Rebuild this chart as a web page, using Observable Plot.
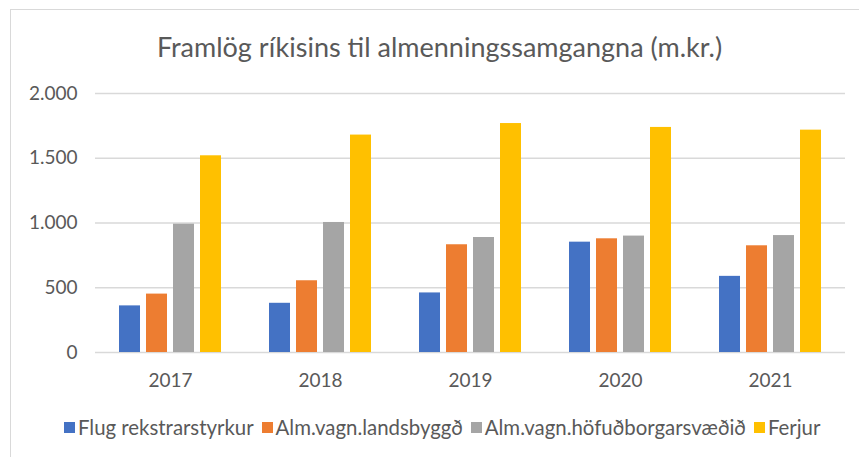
<!DOCTYPE html>
<html>
<head>
<meta charset="utf-8">
<script src="https://cdn.jsdelivr.net/npm/d3@7"></script>
<script src="https://cdn.jsdelivr.net/npm/@observablehq/plot@0.6"></script>
<style>
  html, body { margin: 0; padding: 0; background: #fff; }
  body { width: 859px; height: 457px; overflow: hidden; position: relative; font-family: Lato, "Open Sans", sans-serif; color: #595959; }
  #frame { position: absolute; left: 10px; top: 9px; width: 900px; height: 500px; border: 1px solid #d9d9d9; box-sizing: border-box; }
  #title { position: absolute; left: 0; width: 879px; top: 29px; text-align: center; font-size: 27px; line-height: 36px; color: #595959; }
  #chart { position: absolute; left: 0; top: 60px; }
  #legend { position: absolute; left: 64px; top: 416px; display: flex; align-items: center; font-size: 20.4px; line-height: 22px; white-space: nowrap; }
  .item { display: flex; align-items: center; margin-right: 8px; }
  .sw { width: 11px; height: 11px; margin-right: 3px; }
</style>
</head>
<body>
<div id="frame"></div>
<div id="title"></div>
<div id="chart"></div>
<div id="legend"></div>
<script>
const titleText = "Framlög ríkisins til almenningssamgangna (m.kr.)";
const years = ["2017", "2018", "2019", "2020", "2021"];
const seriesNames = ["Flug rekstrarstyrkur", "Alm.vagn.landsbyggð", "Alm.vagn.höfuðborgarsvæðið", "Ferjur"];
const seriesColors = ["#4472C4", "#ED7D31", "#A5A5A5", "#FFC000"];
const flug = [360, 380, 460, 852, 588];
const landsbyggd = [451, 554, 832, 878, 824];
const hofudborg = [991, 1004, 888, 899, 903];
const ferjur = [1519, 1679, 1768, 1738, 1717];
const yTicks = [0, 500, 1000, 1500, 2000];

const seriesValues = [flug, landsbyggd, hofudborg, ferjur];
const data = [];
years.forEach((yr, i) => {
  seriesNames.forEach((s, j) => data.push({year: yr, series: s, value: seriesValues[j][i]}));
});

const isFmt = d3.formatLocale({decimal: ",", thousands: ".", grouping: [3], currency: ["", ""]}).format(",");

document.getElementById("title").textContent = titleText;

const chart = Plot.plot({
  width: 859,
  height: 340,
  marginTop: 33,
  marginBottom: 48,
  marginLeft: 93,
  marginRight: 12,
  style: {fontFamily: "Lato, 'Open Sans', sans-serif", fontSize: "19px", color: "#595959", background: "transparent"},
  fx: {domain: years, padding: 0, label: null},
  x: {domain: seriesNames, paddingInner: 0.234, paddingOuter: 0.87, axis: null},
  y: {domain: [0, 2000], label: null},
  color: {domain: seriesNames, range: seriesColors},
  marks: [
    Plot.gridY(yTicks, {stroke: "#d9d9d9", strokeOpacity: 1, strokeWidth: 1.3}),
    Plot.axisY(yTicks, {tickSize: 0, tickPadding: 18, tickFormat: isFmt, label: null, fill: "#595959"}),
    Plot.axisFx({anchor: "bottom", tickSize: 0, tickPadding: 21, label: null, fill: "#595959"}),
    Plot.barY(data, {fx: "year", x: "series", y: "value", fill: "series"})
  ]
});
document.getElementById("chart").appendChild(chart);

const legend = document.getElementById("legend");
seriesNames.forEach((s, j) => {
  const item = document.createElement("div");
  item.className = "item";
  const sw = document.createElement("span");
  sw.className = "sw";
  sw.style.background = seriesColors[j];
  const t = document.createElement("span");
  t.textContent = s;
  item.appendChild(sw);
  item.appendChild(t);
  legend.appendChild(item);
});
</script>
</body>
</html>
